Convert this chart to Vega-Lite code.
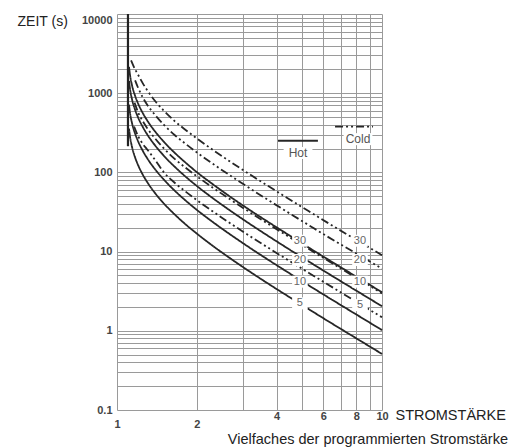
{
  "$schema": "https://vega.github.io/schema/vega-lite/v6.json",
  "width": 265,
  "height": 396,
  "autosize": {"type": "none"},
  "padding": {"left": 117, "top": 14, "right": 136, "bottom": 38},
  "config": {"view": {"stroke": null}, "font": "Liberation Sans"},
  "title": {"text": "Vielfaches der programmierten Stromstärke", "orient": "bottom", "anchor": "end", "frame": "group", "fontSize": 14.5, "fontWeight": "normal", "color": "#222", "font": "Liberation Sans", "offset": 4, "dx": 126},
  "datasets": {
    "vline": [{"I": 1.1, "t": 10000, "t2": 214}],
    "curves": [
      {"curve": "Hot 5", "type": "Hot", "I": 1.11, "t": 358}, {"curve": "Hot 5", "type": "Hot", "I": 1.12, "t": 281}, {"curve": "Hot 5", "type": "Hot", "I": 1.14, "t": 208}, {"curve": "Hot 5", "type": "Hot", "I": 1.17, "t": 155}, {"curve": "Hot 5", "type": "Hot", "I": 1.2, "t": 124.5}, {"curve": "Hot 5", "type": "Hot", "I": 1.25, "t": 94.1}, {"curve": "Hot 5", "type": "Hot", "I": 1.3, "t": 75.5}, {"curve": "Hot 5", "type": "Hot", "I": 1.4, "t": 53.4}, {"curve": "Hot 5", "type": "Hot", "I": 1.5, "t": 40.8}, {"curve": "Hot 5", "type": "Hot", "I": 1.65, "t": 29.5}, {"curve": "Hot 5", "type": "Hot", "I": 1.8, "t": 22.6}, {"curve": "Hot 5", "type": "Hot", "I": 2, "t": 16.9}, {"curve": "Hot 5", "type": "Hot", "I": 2.3, "t": 11.8}, {"curve": "Hot 5", "type": "Hot", "I": 2.7, "t": 8.04}, {"curve": "Hot 5", "type": "Hot", "I": 3.2, "t": 5.47}, {"curve": "Hot 5", "type": "Hot", "I": 3.8, "t": 3.76}, {"curve": "Hot 5", "type": "Hot", "I": 4.5, "t": 2.63}, {"curve": "Hot 5", "type": "Hot", "I": 5.3, "t": 1.87}, {"curve": "Hot 5", "type": "Hot", "I": 6.2, "t": 1.35}, {"curve": "Hot 5", "type": "Hot", "I": 7.2, "t": 0.995}, {"curve": "Hot 5", "type": "Hot", "I": 8.5, "t": 0.71}, {"curve": "Hot 5", "type": "Hot", "I": 10, "t": 0.51},
      {"curve": "Hot 10", "type": "Hot", "I": 1.11, "t": 716}, {"curve": "Hot 10", "type": "Hot", "I": 1.12, "t": 561}, {"curve": "Hot 10", "type": "Hot", "I": 1.14, "t": 416}, {"curve": "Hot 10", "type": "Hot", "I": 1.17, "t": 310}, {"curve": "Hot 10", "type": "Hot", "I": 1.2, "t": 249}, {"curve": "Hot 10", "type": "Hot", "I": 1.25, "t": 188.3}, {"curve": "Hot 10", "type": "Hot", "I": 1.3, "t": 150.9}, {"curve": "Hot 10", "type": "Hot", "I": 1.4, "t": 106.9}, {"curve": "Hot 10", "type": "Hot", "I": 1.5, "t": 81.5}, {"curve": "Hot 10", "type": "Hot", "I": 1.65, "t": 58.9}, {"curve": "Hot 10", "type": "Hot", "I": 1.8, "t": 45.2}, {"curve": "Hot 10", "type": "Hot", "I": 2, "t": 33.7}, {"curve": "Hot 10", "type": "Hot", "I": 2.3, "t": 23.6}, {"curve": "Hot 10", "type": "Hot", "I": 2.7, "t": 16.1}, {"curve": "Hot 10", "type": "Hot", "I": 3.2, "t": 10.95}, {"curve": "Hot 10", "type": "Hot", "I": 3.8, "t": 7.53}, {"curve": "Hot 10", "type": "Hot", "I": 4.5, "t": 5.26}, {"curve": "Hot 10", "type": "Hot", "I": 5.3, "t": 3.73}, {"curve": "Hot 10", "type": "Hot", "I": 6.2, "t": 2.7}, {"curve": "Hot 10", "type": "Hot", "I": 7.2, "t": 1.99}, {"curve": "Hot 10", "type": "Hot", "I": 8.5, "t": 1.42}, {"curve": "Hot 10", "type": "Hot", "I": 10, "t": 1.02},
      {"curve": "Hot 20", "type": "Hot", "I": 1.11, "t": 1431}, {"curve": "Hot 20", "type": "Hot", "I": 1.12, "t": 1122}, {"curve": "Hot 20", "type": "Hot", "I": 1.14, "t": 832}, {"curve": "Hot 20", "type": "Hot", "I": 1.17, "t": 620}, {"curve": "Hot 20", "type": "Hot", "I": 1.2, "t": 498}, {"curve": "Hot 20", "type": "Hot", "I": 1.25, "t": 377}, {"curve": "Hot 20", "type": "Hot", "I": 1.3, "t": 302}, {"curve": "Hot 20", "type": "Hot", "I": 1.4, "t": 214}, {"curve": "Hot 20", "type": "Hot", "I": 1.5, "t": 163}, {"curve": "Hot 20", "type": "Hot", "I": 1.65, "t": 118}, {"curve": "Hot 20", "type": "Hot", "I": 1.8, "t": 90.5}, {"curve": "Hot 20", "type": "Hot", "I": 2, "t": 67.5}, {"curve": "Hot 20", "type": "Hot", "I": 2.3, "t": 47.2}, {"curve": "Hot 20", "type": "Hot", "I": 2.7, "t": 32.2}, {"curve": "Hot 20", "type": "Hot", "I": 3.2, "t": 21.9}, {"curve": "Hot 20", "type": "Hot", "I": 3.8, "t": 15.05}, {"curve": "Hot 20", "type": "Hot", "I": 4.5, "t": 10.5}, {"curve": "Hot 20", "type": "Hot", "I": 5.3, "t": 7.47}, {"curve": "Hot 20", "type": "Hot", "I": 6.2, "t": 5.4}, {"curve": "Hot 20", "type": "Hot", "I": 7.2, "t": 3.98}, {"curve": "Hot 20", "type": "Hot", "I": 8.5, "t": 2.84}, {"curve": "Hot 20", "type": "Hot", "I": 10, "t": 2.04},
      {"curve": "Hot 30", "type": "Hot", "I": 1.11, "t": 2147}, {"curve": "Hot 30", "type": "Hot", "I": 1.12, "t": 1684}, {"curve": "Hot 30", "type": "Hot", "I": 1.14, "t": 1248}, {"curve": "Hot 30", "type": "Hot", "I": 1.17, "t": 929}, {"curve": "Hot 30", "type": "Hot", "I": 1.2, "t": 747}, {"curve": "Hot 30", "type": "Hot", "I": 1.25, "t": 565}, {"curve": "Hot 30", "type": "Hot", "I": 1.3, "t": 453}, {"curve": "Hot 30", "type": "Hot", "I": 1.4, "t": 321}, {"curve": "Hot 30", "type": "Hot", "I": 1.5, "t": 245}, {"curve": "Hot 30", "type": "Hot", "I": 1.65, "t": 177}, {"curve": "Hot 30", "type": "Hot", "I": 1.8, "t": 136}, {"curve": "Hot 30", "type": "Hot", "I": 2, "t": 101}, {"curve": "Hot 30", "type": "Hot", "I": 2.3, "t": 70.8}, {"curve": "Hot 30", "type": "Hot", "I": 2.7, "t": 48.2}, {"curve": "Hot 30", "type": "Hot", "I": 3.2, "t": 32.8}, {"curve": "Hot 30", "type": "Hot", "I": 3.8, "t": 22.6}, {"curve": "Hot 30", "type": "Hot", "I": 4.5, "t": 15.8}, {"curve": "Hot 30", "type": "Hot", "I": 5.3, "t": 11.2}, {"curve": "Hot 30", "type": "Hot", "I": 6.2, "t": 8.1}, {"curve": "Hot 30", "type": "Hot", "I": 7.2, "t": 5.97}, {"curve": "Hot 30", "type": "Hot", "I": 8.5, "t": 4.26}, {"curve": "Hot 30", "type": "Hot", "I": 10, "t": 3.07},
      {"curve": "Cold 5", "type": "Cold", "I": 1.16, "t": 380}, {"curve": "Cold 5", "type": "Cold", "I": 1.2, "t": 290}, {"curve": "Cold 5", "type": "Cold", "I": 1.25, "t": 230}, {"curve": "Cold 5", "type": "Cold", "I": 1.3, "t": 195}, {"curve": "Cold 5", "type": "Cold", "I": 1.4, "t": 140}, {"curve": "Cold 5", "type": "Cold", "I": 1.5, "t": 101}, {"curve": "Cold 5", "type": "Cold", "I": 1.65, "t": 74.1}, {"curve": "Cold 5", "type": "Cold", "I": 1.8, "t": 58.5}, {"curve": "Cold 5", "type": "Cold", "I": 2, "t": 44.8}, {"curve": "Cold 5", "type": "Cold", "I": 2.3, "t": 32.1}, {"curve": "Cold 5", "type": "Cold", "I": 2.7, "t": 22.3}, {"curve": "Cold 5", "type": "Cold", "I": 3.2, "t": 15.4}, {"curve": "Cold 5", "type": "Cold", "I": 3.8, "t": 10.7}, {"curve": "Cold 5", "type": "Cold", "I": 4.5, "t": 7.53}, {"curve": "Cold 5", "type": "Cold", "I": 5.3, "t": 5.38}, {"curve": "Cold 5", "type": "Cold", "I": 6.2, "t": 3.9}, {"curve": "Cold 5", "type": "Cold", "I": 7.2, "t": 2.88}, {"curve": "Cold 5", "type": "Cold", "I": 8.5, "t": 2.06}, {"curve": "Cold 5", "type": "Cold", "I": 10, "t": 1.48},
      {"curve": "Cold 10", "type": "Cold", "I": 1.165, "t": 760}, {"curve": "Cold 10", "type": "Cold", "I": 1.2, "t": 580}, {"curve": "Cold 10", "type": "Cold", "I": 1.25, "t": 445}, {"curve": "Cold 10", "type": "Cold", "I": 1.3, "t": 362}, {"curve": "Cold 10", "type": "Cold", "I": 1.4, "t": 262}, {"curve": "Cold 10", "type": "Cold", "I": 1.5, "t": 202}, {"curve": "Cold 10", "type": "Cold", "I": 1.65, "t": 148.3}, {"curve": "Cold 10", "type": "Cold", "I": 1.8, "t": 117}, {"curve": "Cold 10", "type": "Cold", "I": 2, "t": 89.5}, {"curve": "Cold 10", "type": "Cold", "I": 2.3, "t": 64.2}, {"curve": "Cold 10", "type": "Cold", "I": 2.7, "t": 44.6}, {"curve": "Cold 10", "type": "Cold", "I": 3.2, "t": 30.8}, {"curve": "Cold 10", "type": "Cold", "I": 3.8, "t": 21.4}, {"curve": "Cold 10", "type": "Cold", "I": 4.5, "t": 15.06}, {"curve": "Cold 10", "type": "Cold", "I": 5.3, "t": 10.76}, {"curve": "Cold 10", "type": "Cold", "I": 6.2, "t": 7.81}, {"curve": "Cold 10", "type": "Cold", "I": 7.2, "t": 5.76}, {"curve": "Cold 10", "type": "Cold", "I": 8.5, "t": 4.12}, {"curve": "Cold 10", "type": "Cold", "I": 10, "t": 2.97},
      {"curve": "Cold 20", "type": "Cold", "I": 1.17, "t": 1455}, {"curve": "Cold 20", "type": "Cold", "I": 1.2, "t": 1180}, {"curve": "Cold 20", "type": "Cold", "I": 1.25, "t": 890}, {"curve": "Cold 20", "type": "Cold", "I": 1.3, "t": 715}, {"curve": "Cold 20", "type": "Cold", "I": 1.4, "t": 520}, {"curve": "Cold 20", "type": "Cold", "I": 1.5, "t": 402}, {"curve": "Cold 20", "type": "Cold", "I": 1.65, "t": 296.6}, {"curve": "Cold 20", "type": "Cold", "I": 1.8, "t": 234}, {"curve": "Cold 20", "type": "Cold", "I": 2, "t": 179}, {"curve": "Cold 20", "type": "Cold", "I": 2.3, "t": 128.3}, {"curve": "Cold 20", "type": "Cold", "I": 2.7, "t": 89.3}, {"curve": "Cold 20", "type": "Cold", "I": 3.2, "t": 61.7}, {"curve": "Cold 20", "type": "Cold", "I": 3.8, "t": 42.8}, {"curve": "Cold 20", "type": "Cold", "I": 4.5, "t": 30.1}, {"curve": "Cold 20", "type": "Cold", "I": 5.3, "t": 21.5}, {"curve": "Cold 20", "type": "Cold", "I": 6.2, "t": 15.6}, {"curve": "Cold 20", "type": "Cold", "I": 7.2, "t": 11.6}, {"curve": "Cold 20", "type": "Cold", "I": 8.5, "t": 8.4}, {"curve": "Cold 20", "type": "Cold", "I": 10, "t": 6.1},
      {"curve": "Cold 30", "type": "Cold", "I": 1.13, "t": 2600}, {"curve": "Cold 30", "type": "Cold", "I": 1.17, "t": 2000}, {"curve": "Cold 30", "type": "Cold", "I": 1.2, "t": 1720}, {"curve": "Cold 30", "type": "Cold", "I": 1.25, "t": 1340}, {"curve": "Cold 30", "type": "Cold", "I": 1.3, "t": 1090}, {"curve": "Cold 30", "type": "Cold", "I": 1.4, "t": 780}, {"curve": "Cold 30", "type": "Cold", "I": 1.5, "t": 605}, {"curve": "Cold 30", "type": "Cold", "I": 1.65, "t": 445}, {"curve": "Cold 30", "type": "Cold", "I": 1.8, "t": 351}, {"curve": "Cold 30", "type": "Cold", "I": 2, "t": 268.5}, {"curve": "Cold 30", "type": "Cold", "I": 2.3, "t": 192.5}, {"curve": "Cold 30", "type": "Cold", "I": 2.7, "t": 133.9}, {"curve": "Cold 30", "type": "Cold", "I": 3.2, "t": 92.5}, {"curve": "Cold 30", "type": "Cold", "I": 3.8, "t": 64.3}, {"curve": "Cold 30", "type": "Cold", "I": 4.5, "t": 45.2}, {"curve": "Cold 30", "type": "Cold", "I": 5.3, "t": 32.3}, {"curve": "Cold 30", "type": "Cold", "I": 6.2, "t": 23.4}, {"curve": "Cold 30", "type": "Cold", "I": 7.2, "t": 17.3}, {"curve": "Cold 30", "type": "Cold", "I": 8.5, "t": 12.5}, {"curve": "Cold 30", "type": "Cold", "I": 10, "t": 9.0},
      {"curve": "Legend Hot", "type": "Hot", "I": 4.05, "t": 251}, {"curve": "Legend Hot", "type": "Hot", "I": 5.73, "t": 251},
      {"curve": "Legend Cold", "type": "Cold", "I": 6.65, "t": 378}, {"curve": "Legend Cold", "type": "Cold", "I": 9.25, "t": 378}
    ],
    "labels": [
      {"I": 4.9, "t": 13.7, "text": "30", "kind": "curve"},
      {"I": 4.9, "t": 7.83, "text": "20", "kind": "curve"},
      {"I": 4.9, "t": 4.17, "text": "10", "kind": "curve"},
      {"I": 4.9, "t": 2.22, "text": "5", "kind": "curve"},
      {"I": 8.26, "t": 13.7, "text": "30", "kind": "curve"},
      {"I": 8.26, "t": 7.83, "text": "20", "kind": "curve"},
      {"I": 8.26, "t": 4.17, "text": "10", "kind": "curve"},
      {"I": 8.26, "t": 2.11, "text": "5", "kind": "curve"},
      {"I": 4.82, "t": 176, "text": "Hot", "kind": "legend"},
      {"I": 8.12, "t": 263, "text": "Cold", "kind": "legend"}
    ]
  },
  "encoding": {
    "x": {
      "field": "I", "type": "quantitative",
      "scale": {"type": "log", "domain": [1, 10], "nice": false},
      "axis": {
        "values": [1, 2, 3, 4, 5, 6, 7, 8, 9, 10],
        "format": "~g",
        "labelExpr": "indexof([1,2,4,6,8,10], datum.value) >= 0 ? datum.label : ''",
        "grid": true, "gridColor": "#9a9a9a", "gridWidth": 1,
        "ticks": false, "tickSize": 0, "domain": false,
        "labelFlush": false, "labelOverlap": false,
        "labelFont": "Liberation Sans", "labelFontSize": 11, "labelFontWeight": "bold", "labelColor": "#444",
        "labelBaseline": "top",
        "labelPadding": {"condition": {"test": "datum.value <= 2", "value": 8}, "value": 0},
        "title": "STROMSTÄRKE", "titleAlign": "left", "titleBaseline": "middle", "titleAnchor": "start",
        "titleX": 278, "titleY": 5, "titleFont": "Liberation Sans", "titleFontSize": 14.5, "titleFontWeight": "normal", "titleColor": "#222"
      }
    },
    "y": {
      "field": "t", "type": "quantitative",
      "scale": {"type": "log", "domain": [0.1, 10000], "nice": false},
      "axis": {
        "values": [0.1, 0.2, 0.3, 0.4, 0.5, 0.6, 0.7, 0.8, 0.9, 1, 2, 3, 4, 5, 6, 7, 8, 9, 10, 20, 30, 40, 50, 60, 70, 80, 90, 100, 200, 300, 400, 500, 600, 700, 800, 900, 1000, 2000, 3000, 4000, 5000, 6000, 7000, 8000, 9000, 10000],
        "format": "~g",
        "labelExpr": "indexof([0.1,1,10,100,1000,10000], datum.value) >= 0 ? datum.label : ''",
        "grid": true, "gridColor": "#9a9a9a", "gridWidth": 1,
        "ticks": false, "tickSize": 0, "domain": false,
        "labelFlush": false, "labelOverlap": false,
        "labelFont": "Liberation Sans", "labelFontSize": 11, "labelFontWeight": "bold", "labelColor": "#444",
        "labelPadding": 5,
        "labelBaseline": {"condition": {"test": "datum.value >= 10000", "value": "top"}, "value": "middle"},
        "title": "ZEIT (s)", "titleAngle": 0, "titleAlign": "left", "titleBaseline": "middle",
        "titleX": -100, "titleY": 7, "titleFont": "Liberation Sans", "titleFontSize": 14, "titleFontWeight": "normal", "titleColor": "#222"
      }
    }
  },
  "layer": [
    {
      "data": {"name": "vline"},
      "mark": {"type": "rule", "color": "#222", "strokeWidth": 2.2},
      "encoding": {"y2": {"field": "t2"}}
    },
    {
      "data": {"name": "curves"},
      "mark": {"type": "line", "color": "#262626", "strokeWidth": 1.8, "interpolate": "monotone"},
      "encoding": {
        "detail": {"field": "curve"},
        "strokeDash": {"field": "type", "type": "nominal", "scale": {"domain": ["Hot", "Cold"], "range": [[1, 0], [8, 3, 2, 3, 2, 3]]}, "legend": null}
      }
    },
    {
      "data": {"name": "labels"},
      "transform": [{"filter": "datum.kind === 'curve'"}],
      "mark": {"type": "point", "shape": "M-1.3,-1H1.3V1H-1.3Z", "filled": true, "fill": "white", "strokeWidth": 0, "opacity": 1, "size": 144}
    },
    {
      "data": {"name": "labels"},
      "transform": [{"filter": "datum.kind === 'legend'"}],
      "mark": {"type": "point", "shape": "M-2.4,-1H2.4V1H-2.4Z", "filled": true, "fill": "white", "strokeWidth": 0, "opacity": 1, "size": 144}
    },
    {
      "data": {"name": "labels"},
      "transform": [{"filter": "datum.kind === 'curve'"}],
      "mark": {"type": "text", "font": "Liberation Sans", "fontSize": 11, "color": "#666", "align": "center", "baseline": "middle"},
      "encoding": {"text": {"field": "text"}}
    },
    {
      "data": {"name": "labels"},
      "transform": [{"filter": "datum.kind === 'legend'"}],
      "mark": {"type": "text", "font": "Liberation Sans", "fontSize": 12, "color": "#555", "align": "center", "baseline": "middle"},
      "encoding": {"text": {"field": "text"}}
    }
  ]
}
